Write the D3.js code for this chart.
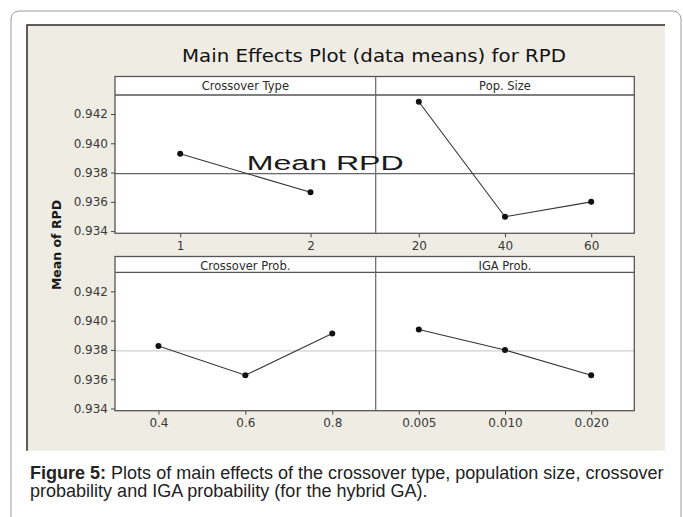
<!DOCTYPE html>
<html>
<head>
<meta charset="utf-8">
<script src="https://cdn.jsdelivr.net/npm/d3@7"></script>
<style>
  html, body { margin: 0; padding: 0; background: #fff; }
  svg { display: block; }
</style>
</head>
<body>
<svg id="chart" width="683" height="517"></svg>
<script>
// ---- data ----
const chartTitle = "Main Effects Plot (data means) for RPD";
const yLabel = "Mean of RPD";
const meanLabel = "Mean RPD";
const factors = ["Crossover Type", "Pop. Size", "Crossover Prob.", "IGA Prob."];
const crossoverTypeLevels = ["1", "2"];
const crossoverTypeMeans = [0.93928, 0.93665];
const popSizeLevels = ["20", "40", "60"];
const popSizeMeans = [0.94284, 0.93498, 0.93600];
const crossoverProbLevels = ["0.4", "0.6", "0.8"];
const crossoverProbMeans = [0.93827, 0.93627, 0.93912];
const igaProbLevels = ["0.005", "0.010", "0.020"];
const igaProbMeans = [0.93939, 0.93800, 0.93627];
const yTicks = [0.934, 0.936, 0.938, 0.940, 0.942];
const grandMean = 0.93793;
const captionBold = "Figure 5:";
const captionLine1 = "Plots of main effects of the crossover type, population size, crossover";
const captionLine2 = "probability and IGA probability (for the hybrid GA).";

const panels = [
  { name: factors[0], levels: crossoverTypeLevels, means: crossoverTypeMeans },
  { name: factors[1], levels: popSizeLevels, means: popSizeMeans },
  { name: factors[2], levels: crossoverProbLevels, means: crossoverProbMeans },
  { name: factors[3], levels: igaProbLevels, means: igaProbMeans }
];

// ---- layout ----
const svg = d3.select("#chart");
const X0 = 115, XM = 375.7, X1 = 634.3;
const rows = [
  { hTop: 76.5, pTop: 95, pBot: 233.3, meanColor: "#666" },
  { hTop: 256.5, pTop: 272.3, pBot: 410.7, meanColor: "#cfcfcf" }
];
const yDomain = [0.93385, 0.94330];

// outer rounded frame
svg.append("rect").attr("x", 11).attr("y", 11).attr("width", 670).attr("height", 530)
  .attr("rx", 8).attr("fill", "#fff").attr("stroke", "#9a9a9a").attr("stroke-width", 1);

// beige chart background
svg.append("rect").attr("x", 27).attr("y", 25).attr("width", 638).attr("height", 425.7)
  .attr("fill", "#efece3");
svg.append("path").attr("d", "M27,450.7V25H665")
  .attr("fill", "none").attr("stroke", "#2a2a2a").attr("stroke-width", 1.5);

// title
svg.append("text").attr("x", 374).attr("y", 61.7).attr("text-anchor", "middle")
  .attr("font-family", "DejaVu Sans").attr("font-size", 17).attr("fill", "#111")
  .attr("textLength", 384).attr("lengthAdjust", "spacingAndGlyphs")
  .text(chartTitle);

// y label
svg.append("text").attr("transform", "translate(61,245) rotate(-90)")
  .attr("text-anchor", "middle").attr("font-family", "DejaVu Sans").attr("font-weight", "bold")
  .attr("font-size", 12.5).attr("fill", "#1a1a1a").text(yLabel);

rows.forEach((r, ri) => {
  const y = d3.scaleLinear().domain(yDomain).range([r.pBot, r.pTop]);
  // white backgrounds
  svg.append("rect").attr("x", X0).attr("y", r.hTop).attr("width", X1 - X0).attr("height", r.pBot - r.hTop)
    .attr("fill", "#fff");
  // mean line
  svg.append("line").attr("x1", X0).attr("x2", X1).attr("y1", y(grandMean)).attr("y2", y(grandMean))
    .attr("stroke", r.meanColor).attr("stroke-width", 1.2);

  // y axis
  const ya = svg.append("g").attr("transform", `translate(${X0},0)`)
    .call(d3.axisLeft(y).tickValues(yTicks).tickFormat(d3.format(".3f")).tickSize(4).tickPadding(3));
  ya.select(".domain").remove();
  ya.selectAll("line").attr("stroke", "#444");
  ya.selectAll("text").attr("font-family", "DejaVu Sans").attr("font-size", 12).attr("fill", "#3a3a3a");

  [0, 1].forEach(ci => {
    const p = panels[ri * 2 + ci];
    const xa0 = ci === 0 ? X0 : XM, xa1 = ci === 0 ? XM : X1;
    const x = d3.scalePoint().domain(p.levels).range([xa0, xa1]).padding(0.5);

    // header label
    svg.append("text").attr("x", (xa0 + xa1) / 2).attr("y", r.hTop + 13.5)
      .attr("text-anchor", "middle").attr("font-family", "DejaVu Sans").attr("font-size", 11.5)
      .attr("fill", "#2a2a2a").text(p.name);

    // x axis
    const xa = svg.append("g").attr("transform", `translate(0,${r.pBot})`)
      .call(d3.axisBottom(x).tickSize(4).tickPadding(4));
    xa.select(".domain").remove();
    xa.selectAll("line").attr("stroke", "#444");
    xa.selectAll("text").attr("font-family", "DejaVu Sans").attr("font-size", 12).attr("fill", "#3a3a3a");

    // line + points
    const pts = p.levels.map((l, i) => [x(l), y(p.means[i])]);
    svg.append("path").attr("d", d3.line()(pts)).attr("fill", "none")
      .attr("stroke", "#333").attr("stroke-width", 1.1);
    svg.selectAll(null).data(pts).enter().append("circle")
      .attr("cx", d => d[0]).attr("cy", d => d[1]).attr("r", 3).attr("fill", "#111");
  });

  // frame lines
  svg.append("rect").attr("x", X0).attr("y", r.hTop).attr("width", X1 - X0).attr("height", r.pBot - r.hTop)
    .attr("fill", "none").attr("stroke", "#555").attr("stroke-width", 1.3);
  svg.append("line").attr("x1", X0).attr("x2", X1).attr("y1", r.pTop).attr("y2", r.pTop)
    .attr("stroke", "#555").attr("stroke-width", 1.3);
  svg.append("line").attr("x1", XM).attr("x2", XM).attr("y1", r.hTop).attr("y2", r.pBot)
    .attr("stroke", "#666").attr("stroke-width", 1.2);
});

// "Mean RPD" annotation
svg.append("text").attr("x", 246.7).attr("y", 169.5)
  .attr("font-family", "Liberation Sans, Arial, sans-serif").attr("font-size", 20).attr("fill", "#1a1a1a")
  .attr("textLength", 157).attr("lengthAdjust", "spacingAndGlyphs").text(meanLabel);

// caption (fit line 1 to the measured width)
const capX = 30, capRight = 664, fam = "Liberation Sans, Arial, sans-serif";
const capB = svg.append("text").attr("x", capX).attr("y", 479).attr("font-family", fam)
  .attr("font-size", 15).attr("font-weight", "bold").attr("fill", "#222").text(captionBold);
const capR = svg.append("text").attr("y", 479).attr("font-family", fam)
  .attr("font-size", 15).attr("fill", "#222").text(captionLine1);
const gap = 15 * 0.278;
const total = capB.node().getComputedTextLength() + gap + capR.node().getComputedTextLength();
const fs = 15 * (capRight - capX) / total;
capB.attr("font-size", fs);
capR.attr("font-size", fs).attr("x", capX + capB.node().getComputedTextLength() + fs * 0.278);
svg.append("text").attr("x", capX).attr("y", 497).attr("font-family", fam)
  .attr("font-size", fs).attr("fill", "#222").text(captionLine2);
</script>
</body>
</html>
